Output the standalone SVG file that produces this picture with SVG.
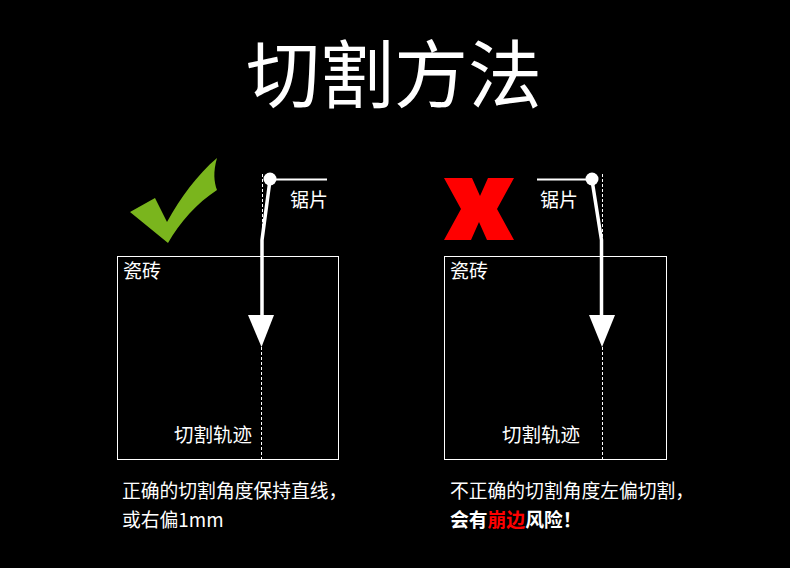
<svg xmlns="http://www.w3.org/2000/svg" width="790" height="568" viewBox="0 0 790 568">
<style>
text{font-family:"Noto Sans CJK SC","Noto Sans",sans-serif;fill:#fff}
.lbl{font-size:19px}
.cap{font-size:19.5px}
.note{font-size:18.8px}
.box{fill:none;stroke:#fff;stroke-width:1}
.dash{stroke:#fff;stroke-width:1;stroke-dasharray:3 2;fill:none}
.saw{stroke:#fff;stroke-width:3.5;fill:none;stroke-linejoin:round}
.arm{stroke:#fff;stroke-width:2;fill:none}
.head{fill:#fff}
</style>
<rect width="790" height="568" fill="#000"/>
<g id="title"><text x="394" y="102" font-size="74" text-anchor="middle">切割方法</text></g>

<g id="check"><path d="M217,158 C213,172 214,182 217,190 C197,203 180,222 168,243 L130,212 L155,198 L167,222 C181,197 197,175 217,158 Z" fill="#7ab51d"/></g>
<g id="cross"><polygon points="444,178 472,178 480,196 488,178 514,178 497,209 514,240 487,240 479,222 471,240 444,240 461,209" fill="#ff0000"/></g>

<g id="tile-left"><rect class="box" x="117.5" y="256.5" width="221" height="203"/><text class="lbl" x="123" y="278">瓷砖</text></g>
<g id="tile-right"><rect class="box" x="444.5" y="256.5" width="222" height="203"/><text class="lbl" x="450" y="278">瓷砖</text></g>

<g id="saw-left">
<line class="arm" x1="270" y1="179.5" x2="327" y2="179.5"/>
<circle cx="270" cy="179" r="6.5" fill="#fff"/>
<text class="lbl" x="290" y="207">锯片</text>
</g>
<g id="saw-right">
<line class="arm" x1="537" y1="179.5" x2="592" y2="179.5"/>
<circle cx="592" cy="179" r="6.5" fill="#fff"/>
<text class="lbl" x="540" y="207">锯片</text>
</g>

<g id="connectors">
<line class="dash" x1="262.5" y1="174" x2="262.5" y2="240"/>
<polyline class="saw" points="270,180 262,240 262,318"/>
<polygon class="head" points="248,315 274,315 261.5,347"/>
<line class="dash" x1="261.5" y1="347" x2="261.5" y2="459"/>

<line class="dash" x1="602.5" y1="174" x2="602.5" y2="240"/>
<polyline class="saw" points="592,180 601.5,240 601.5,318"/>
<polygon class="head" points="589,315 615,315 602,347"/>
<line class="dash" x1="602.5" y1="347" x2="602.5" y2="459"/>
</g>

<g id="track-left"><text class="cap" x="174" y="442">切割轨迹</text></g>
<g id="track-right"><text class="cap" x="502" y="442">切割轨迹</text></g>

<g id="note-left">
<text class="note" x="122" y="498">正确的切割角度保持直线，</text>
<text class="note" x="122" y="527">或右偏1mm</text>
</g>
<g id="note-right">
<text class="note" x="450" y="498">不正确的切割角度左偏切割，</text>
<text class="note" x="450" y="527" font-weight="bold">会有<tspan fill="#ff0000">崩边</tspan>风险！</text>
</g>
</svg>
